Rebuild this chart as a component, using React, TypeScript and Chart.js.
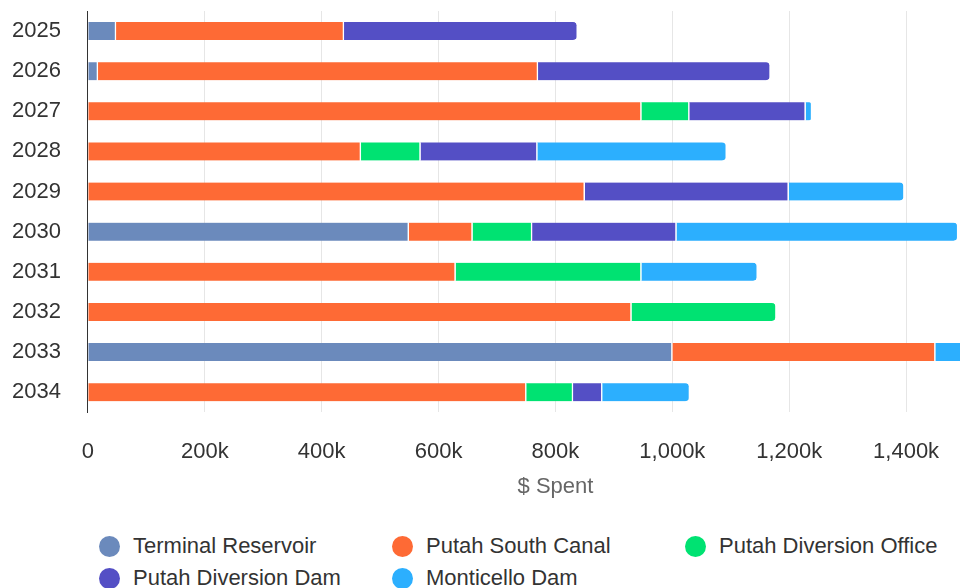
import React, { useEffect, useRef } from "react";
import { Chart, registerables } from "chart.js";

Chart.register(...registerables);

// Categories (years)
const years = ["2025", "2026", "2027", "2028", "2029", "2030", "2031", "2032", "2033", "2034"];

// Series names and colours
const seriesNames = [
  "Terminal Reservoir",
  "Putah South Canal",
  "Putah Diversion Office",
  "Putah Diversion Dam",
  "Monticello Dam",
];
const seriesColors = ["#6b8abc", "#fe6a35", "#00e272", "#544fc5", "#2caffe"];

// Values in thousands of dollars
const terminalReservoir = [48, 17, 0, 0, 0, 549, 0, 0, 1000, 0];
const putahSouthCanal = [390, 753, 947, 467, 850, 109, 629, 930, 450, 750];
const putahDiversionOffice = [0, 0, 82, 102, 0, 102, 318, 248, 0, 80];
const putahDiversionDam = [400, 398, 199, 200, 349, 247, 0, 0, 0, 50];
const monticelloDam = [0, 0, 11, 324, 198, 482, 199, 0, 100, 150];

const seriesValues = [terminalReservoir, putahSouthCanal, putahDiversionOffice, putahDiversionDam, monticelloDam];

// Axis settings
const xMin = 0;
const xMax = 1600000;
const xStep = 200000;
const xTitle = "$ Spent";

const FONT = '"Liberation Sans", Arial, Helvetica, sans-serif';

function formatTick(v: number): string {
  if (v === 0) return "0";
  return (v / 1000).toLocaleString("en-US") + "k";
}

export default function App() {
  const ref = useRef<HTMLCanvasElement>(null);

  useEffect(() => {
    const radiusFn = (ctx: any) => {
      const ds = ctx.chart.data.datasets;
      const i = ctx.dataIndex;
      let last = -1;
      for (let k = 0; k < ds.length; k++) {
        const v = ds[k].data[i];
        if (v != null && v > 0) last = k;
      }
      return ctx.datasetIndex === last
        ? { topLeft: 0, bottomLeft: 0, topRight: 5, bottomRight: 5 }
        : 0;
    };

    const chart = new Chart(ref.current as HTMLCanvasElement, {
      type: "bar",
      data: {
        labels: years,
        datasets: seriesValues.map((vals, i) => ({
          label: seriesNames[i],
          data: vals.map((v) => (v === 0 ? null : v * 1000)),
          backgroundColor: seriesColors[i],
          borderColor: "#ffffff",
          borderWidth: { top: 0, left: 0, bottom: 0, right: 1.5 },
          borderSkipped: "start",
          borderRadius: radiusFn,
          barThickness: 18,
        })),
      },
      options: {
        indexAxis: "y",
        responsive: false,
        animation: false,
        devicePixelRatio: 1,
        layout: { padding: { top: 0, left: 12, right: 0, bottom: 6 } },
        plugins: {
          legend: { display: false },
          tooltip: { enabled: false },
        },
        scales: {
          x: {
            stacked: true,
            min: xMin,
            max: xMax,
            ticks: {
              stepSize: xStep,
              autoSkip: false,
              maxRotation: 0,
              color: "#333333",
              font: { family: FONT, size: 22 },
              padding: 0,
              callback: (v: any) => formatTick(Number(v)),
            },
            grid: {
              color: (c: any) => (c.index === 0 ? "rgba(0,0,0,0)" : "#e6e6e6"),
              lineWidth: 1,
              drawTicks: true,
              tickLength: 27,
              tickColor: "rgba(0,0,0,0)",
            },
            border: { display: false },
            title: {
              display: true,
              text: xTitle,
              color: "#666666",
              font: { family: FONT, size: 22 },
              padding: { top: 8, bottom: 4 },
            },
          },
          y: {
            stacked: true,
            grid: {
              display: true,
              color: "rgba(0,0,0,0)",
              drawTicks: true,
              tickLength: 27,
              tickColor: "rgba(0,0,0,0)",
            },
            border: { display: true, color: "#333333", width: 1 },
            ticks: {
              color: "#333333",
              font: { family: FONT, size: 22, lineHeight: 1 },
              padding: 0,
            },
          },
        },
      },
    } as any);
    return () => chart.destroy();
  }, []);

  return (
    <div
      style={{
        position: "fixed",
        left: 0,
        top: 0,
        width: 960,
        height: 588,
        overflow: "hidden",
        background: "#ffffff",
      }}
    >
      <canvas ref={ref} width={1056} height={510} style={{ position: "absolute", left: 0, top: 0 }} />
      <div
        style={{
          position: "absolute",
          left: 99,
          top: 530,
          display: "grid",
          gridTemplateColumns: "293px 293px 293px",
          gridAutoRows: "32px",
          fontFamily: FONT,
          fontSize: 22,
          color: "#333333",
        }}
      >
        {seriesNames.map((name, i) => (
          <div key={name} style={{ display: "flex", alignItems: "center", whiteSpace: "nowrap" }}>
            <span
              style={{
                display: "inline-block",
                width: 21,
                height: 21,
                borderRadius: "50%",
                background: seriesColors[i],
                marginRight: 13,
                flex: "none",
              }}
            />
            <span>{name}</span>
          </div>
        ))}
      </div>
    </div>
  );
}
